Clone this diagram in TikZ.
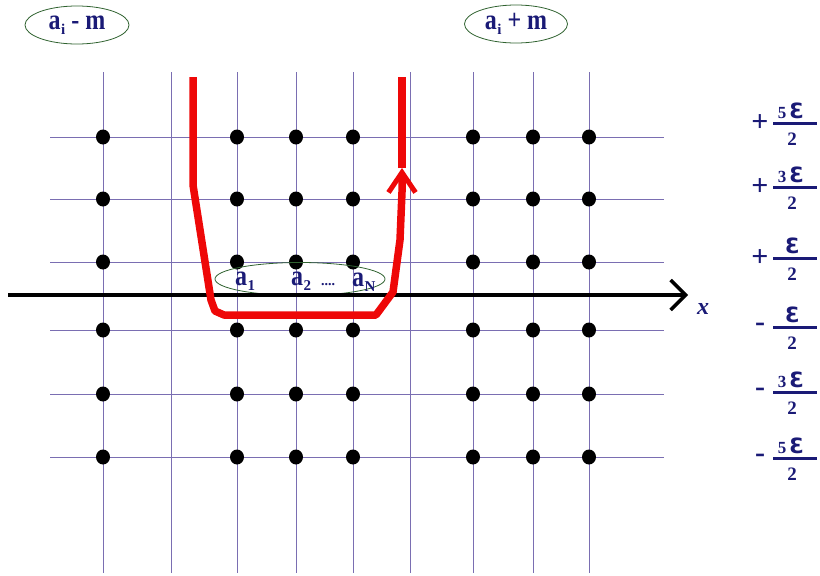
\documentclass[tikz,border=0pt]{standalone}
\usepackage{fontspec}
\setmainfont{Liberation Serif}
\newfontfamily\epsfont{DejaVu Sans}
\usepackage{graphicx}
\usepackage{xcolor}
\usepackage{tikz}
\usetikzlibrary{arrows.meta,shapes.geometric}
\definecolor{labelnavy}{RGB}{26,26,118}
\definecolor{gridlila}{RGB}{122,110,178}
\definecolor{ovalgreen}{RGB}{48,98,48}
\definecolor{pathred}{RGB}{238,8,8}
\newcommand{\tallbf}[1]{\scalebox{1}[1.2]{\bfseries #1}}
\newcommand{\asub}[1]{\tallbf{a}\kern0.5pt\raisebox{-5pt}{\fontsize{15}{15}\selectfont\bfseries #1}}
\newcommand{\Eps}{{\epsfont\bfseries\fontsize{21}{21}\selectfont Ɛ}}

\begin{document}
\begin{tikzpicture}[x=1pt,y=-1pt,
    gridline/.style={gridlila, line width=0.8pt},
    lab/.style={text=labelnavy, font=\fontsize{24}{24}\selectfont, inner sep=0pt},
    oval/.style={ellipse, draw=ovalgreen, line width=0.8pt, inner sep=0pt},
    redpath/.style={pathred, line width=7.5pt, line join=round}]
\useasboundingbox (0,0) rectangle (820,576);

% lattice
\foreach \gx in {103,171,237,296,353,410,473,533,589}
    \draw[gridline] (\gx,72) -- (\gx,573);
\foreach \gy in {137,199,262,330,394,457}
    \draw[gridline] (50,\gy) -- (664,\gy);
\foreach \gx in {103,237,296,353,473,533,589} {
    \foreach \gy in {137,199,262,330,394,457} {
        \fill[black] (\gx,\gy) ellipse (7pt and 7.5pt);
    }
}

% ovals with the labels
\node[oval, minimum width=104pt, minimum height=38pt, lab] (left) at (77,25) {\asub{i} \tallbf{-} \tallbf{m}};
\node[oval, minimum width=103pt, minimum height=38pt, lab] (right) at (516,24) {\asub{i} \tallbf{+} \tallbf{m}};
\node[oval, minimum width=170pt, minimum height=33pt] (band) at (300,279) {};

% real axis
\coordinate (xstart) at (8,295);
\coordinate (xend) at (688,295);
\draw[black, line width=3.4pt, -{Straight Barb[length=15pt,width=30pt]}] (xstart) -- (xend);
\node[lab, anchor=base west] (xlab) at (697,314) {\bfseries\itshape x};

\node[lab, anchor=base west] (a1) at (235,285) {\asub{1}};
\node[lab, anchor=base west] (a2) at (291,285) {\asub{2}};
\node[lab, anchor=base west, font=\fontsize{14}{14}\selectfont] (dots) at (321,285) {\bfseries ....};
\node[lab, anchor=base west] (aN) at (352,286) {\asub{N}};

% contour
\coordinate (r0) at (193,77);
\coordinate (r1) at (193,185);
\coordinate (r2) at (211,300);
\coordinate (r3) at (215,311);
\coordinate (r4) at (224,315);
\coordinate (r5) at (376,315);
\coordinate (r6) at (393,292);
\coordinate (r7) at (400,240);
\coordinate (r8) at (402,192);
\coordinate (r9) at (402,168);
\draw[redpath, -{Straight Barb[length=20pt,width=27pt,line width=5pt]}]
    (r0) -- (r1) -- (r2) -- (r3) -- (r4) -- (r5) -- (r6) -- (r7) -- (r8) -- (r9);
\draw[redpath] (r9) -- (402,77);

% levels
\foreach \ly/\sg/\nm [count=\k] in {123/+/5,187/+/3,258/+/,327/-/,392/-/3,458/-/5} {
    \node[lab, font=\fontsize{30}{30}\selectfont\bfseries] (sg\k) at (760,\ly) {\sg};
    \draw[labelnavy, line width=3pt] (773,\ly) -- (817,\ly);
    \node[lab, anchor=base] (nm\k) at (791,\ly-5) {{\fontsize{17}{17}\selectfont\bfseries \nm}\kern3pt\Eps};
    \node[lab, anchor=base, font=\fontsize{19}{19}\selectfont\bfseries] (dn\k) at (792,\ly+22) {2};
}
\end{tikzpicture}
\end{document}
